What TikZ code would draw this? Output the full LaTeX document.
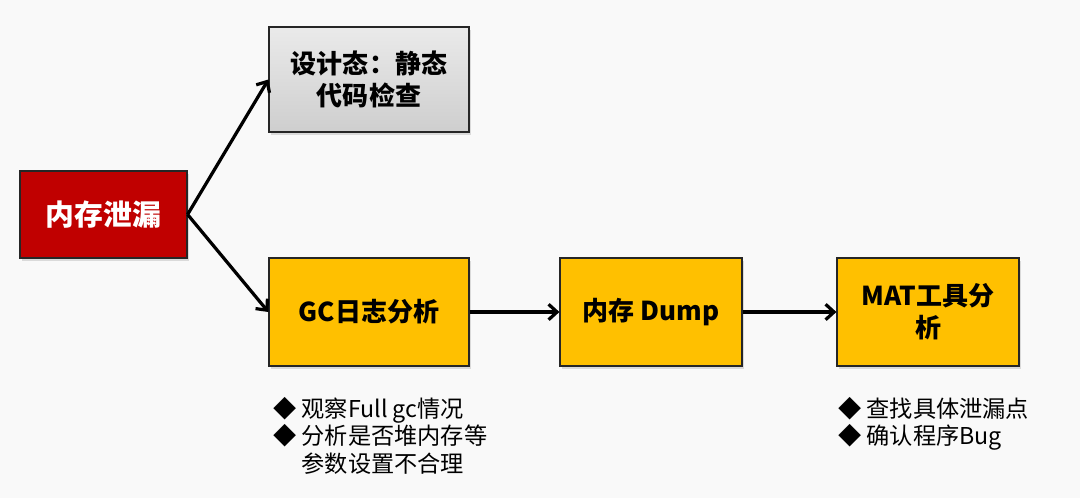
\documentclass[tikz,border=0pt]{standalone}
\usepackage{fontspec}
\setmainfont{Noto Sans CJK SC}
\usetikzlibrary{arrows.meta,shadows}
\definecolor{leakred}{HTML}{C00000}
\definecolor{stepgold}{HTML}{FFC000}
\definecolor{boxgray}{HTML}{D9D9D9}
\definecolor{bggray}{HTML}{F9F9F9}

\begin{document}
\begin{tikzpicture}[x=0.025cm,y=-0.025cm,
  box/.style={draw=black!85,line width=0.8pt,minimum width=5cm,minimum height=2.7cm,
    align=center,font=\fontsize{18.5}{22.5}\selectfont\bfseries,
    drop shadow={shadow xshift=1.5pt,shadow yshift=-2pt,opacity=0.25}},
  flow/.style={-{Straight Barb[length=6pt,width=11pt]},line width=2.3pt},
  note/.style={anchor=north west,align=left,inner sep=0pt,font=\fontsize{16.5}{19.5}\selectfont}]
\useasboundingbox [fill=bggray] (0,0) rectangle (1080,498);
\node [box,fill=leakred,text=white,minimum width=4.175cm,minimum height=2.175cm,
  font=\fontsize{20.5}{24}\selectfont\bfseries] (leak) at (103.5,214.5) {内存泄漏};
\node [box,top color=boxgray!55,bottom color=boxgray!95!black,minimum height=2.625cm] (design) at (369,79.5) {设计态：静态\\代码检查};
\node [box,fill=stepgold] (gclog) at (369,312) {GC日志分析};
\node [box,fill=stepgold,minimum width=4.55cm] (dump) at (651,312) {内存 Dump};
\node [box,fill=stepgold,minimum width=4.55cm] (mat) at (928,312) {MAT工具分\\析};
% arrows
\draw [flow] (leak.east) -- (design.west);
\draw [flow] (leak.east) -- (gclog.west);
\draw [flow] (gclog.east) -- (dump.west);
\draw [flow] (dump.east) -- (mat.west);
% notes
\node [note] (gcnote) at (273,397) {◆ 观察Full gc情况\\◆ 分析是否堆内存等\\\phantom{◆ }参数设置不合理};
\node [note] (matnote) at (838,397) {◆ 查找具体泄漏点\\◆ 确认程序Bug};
\end{tikzpicture}
\end{document}
